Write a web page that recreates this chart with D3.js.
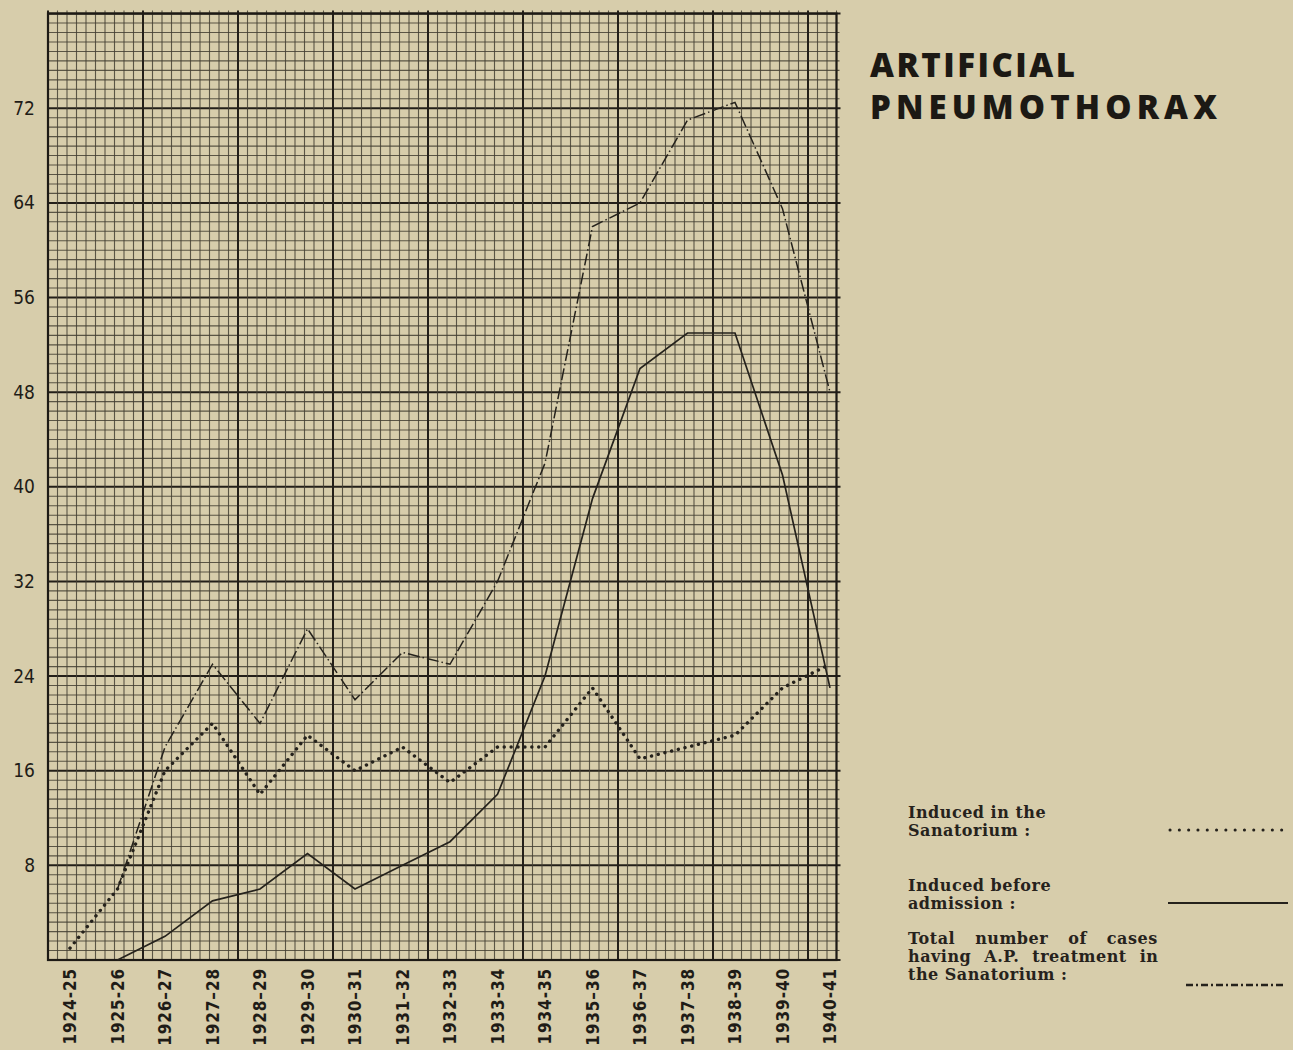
<!DOCTYPE html>
<html lang="en">
  <head>
    <meta charset="utf-8">
    <title>Artificial Pneumothorax</title>
    <script src="https://cdn.jsdelivr.net/npm/d3@7"></script>
    <style>
html, body {
  margin: 0;
  padding: 0;
  background: #d7cdab;
}
svg {
  display: block;
}
.yr text {
  font: bold 17px "DejaVu Sans Condensed", sans-serif;
  fill: #1f1c17;
}
.val text {
  font: 19px "DejaVu Sans Condensed", sans-serif;
  fill: #1f1c17;
}
.legend text {
  font: bold 16px "DejaVu Serif", serif;
  fill: #26221c;
  letter-spacing: 0.5px;
}
    </style>
  </head>
  <body>
    <div id="chart"></div>
    <script>

// years on the x axis
var years = ["1924-25", "1925-26", "1926\u201327", "1927\u201328", "1928\u201329", "1929\u201330",
  "1930\u201331", "1931\u201332", "1932-33", "1933-34", "1934-35", "1935\u201336",
  "1936\u201337", "1937\u201338", "1938-39", "1939-40", "1940-41"];

// induced in the sanatorium (dotted)
var inSanatorium = [1, 6, 16, 20, 14, 19, 16, 18, 15, 18, 18, 23, 17, 18, 19, 23, 25];
// induced before admission (solid)
var beforeAdmission = [null, 0, 2, 5, 6, 9, 6, 8, 10, 14, 24, 39, 50, 53, 53, 41, 23];
// total having A.P. treatment (dash-dot)
var totalCases = [null, 6, 18, 25, 20, 28, 22, 26, 25, 32, 42, 62, 64, 71, 72.5, 63.5, 48];

var yTicks = [8, 16, 24, 32, 40, 48, 56, 64, 72];

var W = 1293, H = 1050;

var svg = d3.select("#chart").append("svg")
    .attr("width", W)
    .attr("height", H);

// scales
var x = d3.scalePoint().domain(years).range([70, 830]);
var y = d3.scaleLinear().domain([0, 80]).range([960, 13.6]);
// graph paper: 83 small squares across
var xp = d3.scaleLinear().domain([0, 83]).range([48, 836.5]);

// graph paper
var paper = svg.append("g").attr("class", "paper");

paper.selectAll("line.h")
    .data(d3.range(0, 101))
  .enter().append("line")
    .attr("class", "h")
    .attr("x1", xp(0))
    .attr("x2", function(d) { return d % 10 === 0 ? xp(83) + 4 : xp(83) + 3; })
    .attr("y1", function(d) { return y(d * 0.8); })
    .attr("y2", function(d) { return y(d * 0.8); })
    .attr("stroke", function(d) { return d % 10 === 0 ? "#231f19" : "#443f33"; })
    .attr("stroke-width", function(d) { return d % 10 === 0 ? 2 : 1.1; })
    .attr("stroke-opacity", function(d) { return d % 10 === 0 ? 1 : 0.85; });

paper.selectAll("line.v")
    .data(d3.range(0, 84))
  .enter().append("line")
    .attr("class", "v")
    .attr("x1", function(d) { return xp(d); })
    .attr("x2", function(d) { return xp(d); })
    .attr("y1", y(80) - 3)
    .attr("y2", y(0))
    .attr("stroke", function(d) { return d % 10 === 0 ? "#231f19" : "#443f33"; })
    .attr("stroke-width", function(d) { return d % 10 === 0 ? 2 : 1.1; })
    .attr("stroke-opacity", function(d) { return d % 10 === 0 ? 1 : 0.85; });

// frame
paper.append("rect")
    .attr("x", xp(0))
    .attr("y", y(80))
    .attr("width", xp(83) - xp(0))
    .attr("height", y(0) - y(80))
    .attr("fill", "none")
    .attr("stroke", "#1d1a15")
    .attr("stroke-width", 2.2);

// axes
var yAxis = svg.append("g")
    .attr("class", "val")
    .attr("transform", "translate(" + xp(0) + ",0)")
    .call(d3.axisLeft(y).tickValues(yTicks).tickSize(0).tickPadding(13));
yAxis.select(".domain").remove();

var xAxis = svg.append("g")
    .attr("class", "yr")
    .attr("transform", "translate(0," + y(0) + ")")
    .call(d3.axisBottom(x).tickSize(0));
xAxis.select(".domain").remove();
xAxis.selectAll("text")
    .attr("transform", "rotate(-90)")
    .attr("x", -8)
    .attr("y", 0)
    .attr("dy", "0.35em")
    .attr("text-anchor", "end")
    .attr("letter-spacing", "0.9px");

// series
function makeLine(vals) {
  return d3.line()
      .defined(function(d, i) { return vals[i] !== null; })
      .x(function(d, i) { return x(years[i]); })
      .y(function(d, i) { return y(vals[i]); })(vals);
}

var ink = "#25221c";

svg.append("path")
    .attr("d", makeLine(beforeAdmission))
    .attr("fill", "none")
    .attr("stroke", ink)
    .attr("stroke-width", 1.7);

svg.append("path")
    .attr("d", makeLine(totalCases))
    .attr("fill", "none")
    .attr("stroke", ink)
    .attr("stroke-width", 1.5)
    .attr("stroke-dasharray", "12,3,1.5,3");

svg.append("path")
    .attr("d", makeLine(inSanatorium))
    .attr("fill", "none")
    .attr("stroke", ink)
    .attr("stroke-width", 3.4)
    .attr("stroke-linecap", "round")
    .attr("stroke-dasharray", "0.1,6.8");

// title
var title = svg.append("g")
    .attr("font-family", "'Open Sans', sans-serif")
    .attr("font-weight", 800)
    .attr("font-size", 33)
    .attr("fill", "#1c1914");
title.append("text").attr("x", 870).attr("y", 77)
    .attr("textLength", 205).attr("lengthAdjust", "spacing")
    .text("ARTIFICIAL");
title.append("text").attr("x", 870).attr("y", 119)
    .attr("textLength", 347).attr("lengthAdjust", "spacing")
    .text("PNEUMOTHORAX");

// legend
var legend = svg.append("g").attr("class", "legend");

function legendText(lines, y0, wordGap) {
  lines.forEach(function(t, i) {
    legend.append("text")
        .attr("x", 908)
        .attr("y", y0 + i * 18)
        .attr("word-spacing", wordGap ? wordGap[i] : 0)
        .text(t);
  });
}

legendText(["Induced in the", "Sanatorium :"], 818);
legendText(["Induced before", "admission :"], 891);
legendText(["Total number of cases", "having A.P. treatment in", "the Sanatorium :"], 944, [14, 7, 0]);

legend.append("line")
    .attr("x1", 1170).attr("x2", 1284).attr("y1", 830).attr("y2", 830)
    .attr("stroke", ink).attr("stroke-width", 3)
    .attr("stroke-linecap", "round").attr("stroke-dasharray", "0.1,9.2");
legend.append("line")
    .attr("x1", 1168).attr("x2", 1288).attr("y1", 903).attr("y2", 903)
    .attr("stroke", ink).attr("stroke-width", 2);
legend.append("line")
    .attr("x1", 1186).attr("x2", 1286).attr("y1", 985).attr("y2", 985)
    .attr("stroke", ink).attr("stroke-width", 2.4)
    .attr("stroke-dasharray", "7,3,2,3");

    </script>
  </body>
</html>
